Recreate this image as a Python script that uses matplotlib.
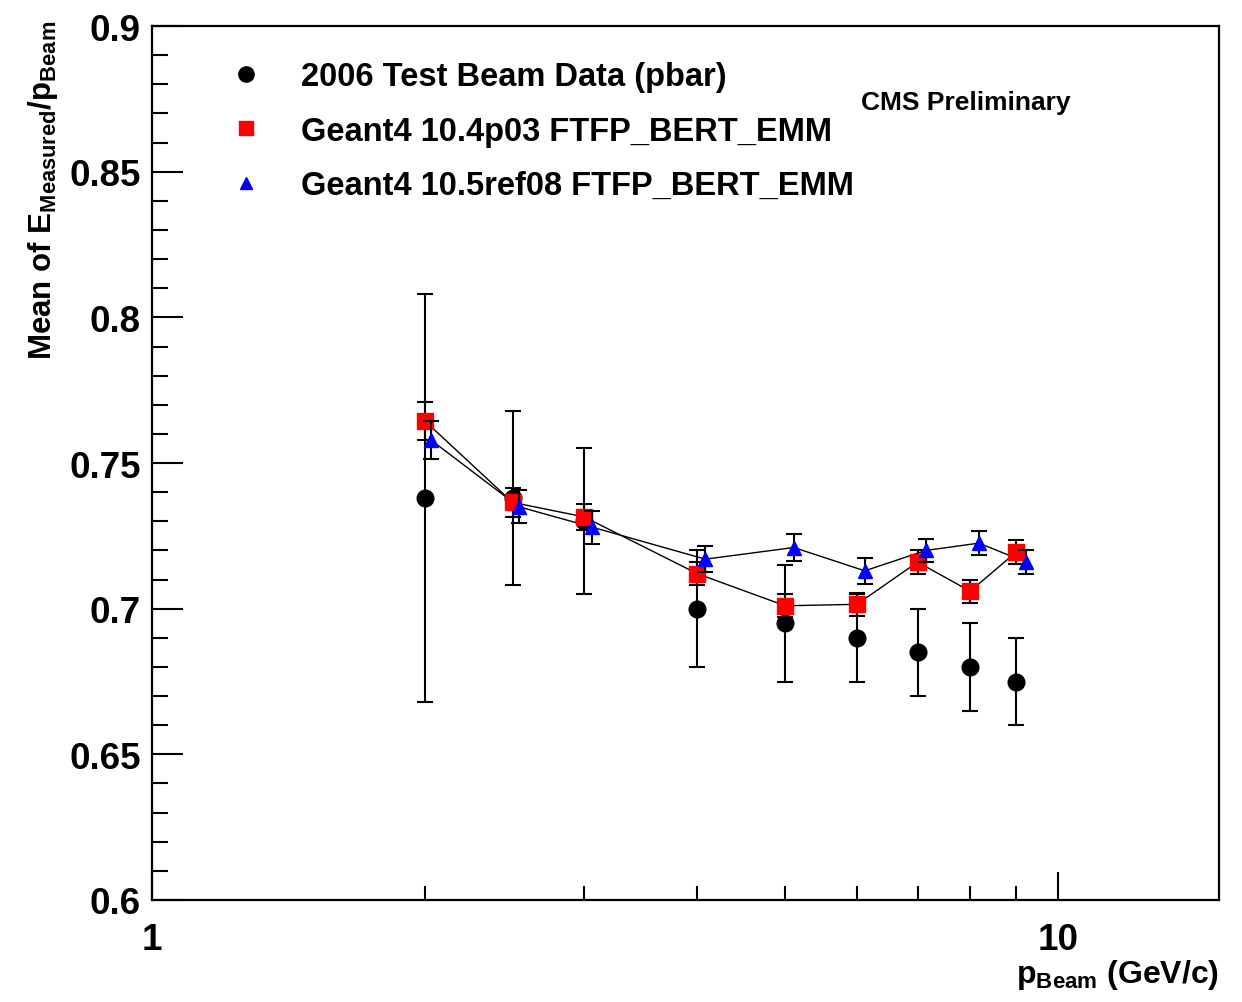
import matplotlib
matplotlib.use("Agg")
import matplotlib.pyplot as plt
from matplotlib.lines import Line2D
from matplotlib.ticker import FixedLocator, FuncFormatter, MultipleLocator, NullFormatter

plt.rcParams["font.family"] = "Liberation Sans"
plt.rcParams["font.weight"] = "bold"
plt.rcParams["mathtext.fontset"] = "custom"
plt.rcParams["mathtext.rm"] = "Liberation Sans:bold"
plt.rcParams["mathtext.it"] = "Liberation Sans:bold"
plt.rcParams["mathtext.bf"] = "Liberation Sans:bold"
plt.rcParams["mathtext.sf"] = "Liberation Sans:bold"

# test beam data (pbar)
p_data = [2.0, 2.5, 3.0, 4.0, 5.0, 6.0, 7.0, 8.0, 9.0]
data_mean = [0.738, 0.738, 0.730, 0.700, 0.695, 0.690, 0.685, 0.680, 0.675]
data_err = [0.070, 0.030, 0.025, 0.020, 0.020, 0.015, 0.015, 0.015, 0.015]

# Geant4 10.4p03
p_g104 = [2.0, 2.5, 3.0, 4.0, 5.0, 6.0, 7.0, 8.0, 9.0]
g104_mean = [0.7645, 0.7365, 0.7315, 0.712, 0.701, 0.7015, 0.716, 0.706, 0.7195]
g104_err = [0.0065, 0.005, 0.0045, 0.004, 0.004, 0.004, 0.004, 0.004, 0.004]

# Geant4 10.5ref08 (slightly shifted in p)
p_g105 = [2.03, 2.54, 3.06, 4.08, 5.11, 6.12, 7.15, 8.18, 9.22]
g105_mean = [0.758, 0.735, 0.728, 0.717, 0.721, 0.713, 0.720, 0.7225, 0.716]
g105_err = [0.0065, 0.0057, 0.0057, 0.0045, 0.0045, 0.0045, 0.004, 0.004, 0.004]

labels = [
    "2006 Test Beam Data (pbar)",
    "Geant4 10.4p03 FTFP_BERT_EMM",
    "Geant4 10.5ref08 FTFP_BERT_EMM",
]

fig = plt.figure(figsize=(12.42, 10.03), dpi=100)
ax = fig.add_axes([0.1224, 0.1017, 0.8591, 0.8713])

err_kw = dict(ecolor="black", elinewidth=1.5, capsize=6, capthick=1.5, linestyle="none")

ax.errorbar(p_data, data_mean, yerr=data_err, fmt="o", color="black", ms=12, zorder=2, **err_kw)

ax.plot(p_g104, g104_mean, color="black", lw=1.0, zorder=3)
ax.errorbar(p_g104, g104_mean, yerr=g104_err, fmt="s", color="red", mec="red", ms=11, zorder=4, **err_kw)

ax.plot(p_g105, g105_mean, color="black", lw=1.0, zorder=3)
ax.errorbar(p_g105, g105_mean, yerr=g105_err, fmt="^", color="blue", mec="blue", ms=10, zorder=5, **err_kw)

ax.set_xscale("log")
ax.set_xlim(1, 15.06)
ax.set_ylim(0.6, 0.9)

ax.xaxis.set_major_locator(FixedLocator([1, 10]))
ax.xaxis.set_minor_locator(FixedLocator([2, 3, 4, 5, 6, 7, 8, 9]))
ax.xaxis.set_major_formatter(FuncFormatter(lambda v, pos: f"{v:g}"))
ax.xaxis.set_minor_formatter(NullFormatter())
ax.yaxis.set_major_locator(MultipleLocator(0.05))
ax.yaxis.set_minor_locator(MultipleLocator(0.01))
ax.yaxis.set_major_formatter(FuncFormatter(lambda v, pos: f"{v:g}"))

ax.tick_params(axis="both", which="both", direction="in", top=False, right=False, width=1.5)
ax.tick_params(axis="x", which="major", length=20, labelsize=26.5, pad=16)
ax.tick_params(axis="x", which="minor", length=10)
ax.tick_params(axis="y", which="major", length=22, labelsize=26.5, pad=8)
ax.tick_params(axis="y", which="minor", length=11.5)
for sp in ax.spines.values():
    sp.set_linewidth(1.6)

ax.set_xlabel(r"p$_{\mathrm{Beam}}$ (GeV/c)", fontsize=23, fontweight="bold")
ax.xaxis.set_label_coords(1.0, -0.085)
ax.xaxis.label.set_ha("right")
ax.xaxis.label.set_va("center")

ax.set_ylabel(r"Mean of E$_{\mathrm{Measured}}$/p$_{\mathrm{Beam}}$", fontsize=22.5, fontweight="bold")
ax.yaxis.set_label_coords(-0.102, 0.813)
ax.yaxis.label.set_va("center")

ax.text(0.664, 0.913, "CMS Preliminary", transform=ax.transAxes, fontsize=19,
        fontweight="bold", ha="left", va="center")

handles = [
    Line2D([], [], marker="o", color="black", ls="none", ms=11),
    Line2D([], [], marker="s", color="red", ls="none", ms=10),
    Line2D([], [], marker="^", color="blue", ls="none", ms=9),
]
ax.legend(handles, labels, loc="upper left", bbox_to_anchor=(0.074, 0.96), frameon=False,
          handlelength=0.9, handletextpad=1.25, labelspacing=0.72,
          borderaxespad=0, borderpad=0, prop={"weight": "bold", "size": 23.5})

fig.savefig("out.png", dpi=100)
